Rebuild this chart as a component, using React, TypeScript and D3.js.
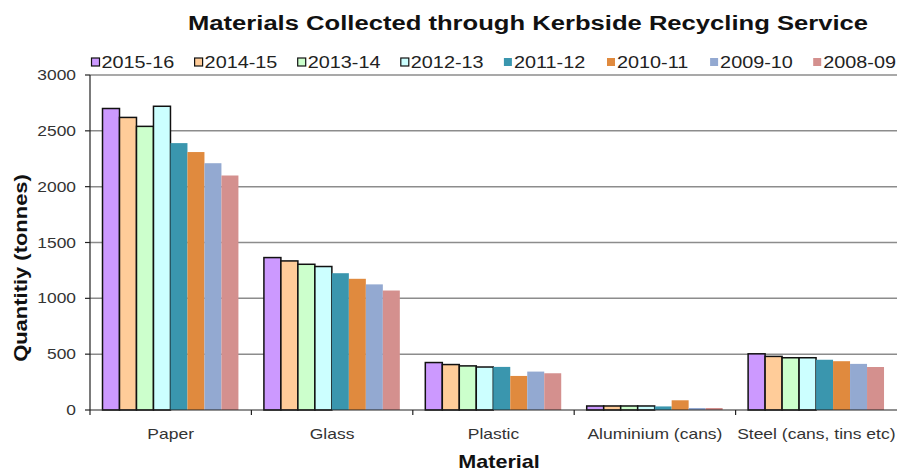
import React from "react";
import * as d3 from "d3";

const materials = ["Paper", "Glass", "Plastic", "Aluminium (cans)", "Steel (cans, tins etc)"];
const seasons = ["2015-16", "2014-15", "2013-14", "2012-13", "2011-12", "2010-11", "2009-10", "2008-09"];
const seasonColors = ["#CC99FF", "#FFCC99", "#CCFFCC", "#CCFFFF", "#3A96AE", "#E08A3E", "#93A9D1", "#D4908E"];
const outlined = [true, true, true, true, false, false, false, false];

// tonnes per material, one array per season
const s201516 = [2700, 1365, 425, 36, 503];
const s201415 = [2620, 1335, 407, 36, 480];
const s201314 = [2540, 1305, 395, 36, 468];
const s201213 = [2720, 1285, 385, 36, 468];
const s201112 = [2390, 1225, 386, 32, 450];
const s201011 = [2310, 1175, 305, 87, 437];
const s200910 = [2210, 1125, 344, 18, 413];
const s200809 = [2100, 1070, 329, 18, 385];
const seriesValues = [s201516, s201415, s201314, s201213, s201112, s201011, s200910, s200809];

const yTicks = [0, 500, 1000, 1500, 2000, 2500, 3000];

const W = 901;
const H = 471;
const left = 90;
const right = 897;
const top = 75;
const bottom = 410;

const font = "'Liberation Sans', Arial, sans-serif";

// text widened along its own baseline direction
function WideText(props: {
  x: number;
  y: number;
  sx: number;
  rotate?: number;
  size: number;
  bold?: boolean;
  anchor?: "start" | "middle" | "end";
  fill?: string;
  children: React.ReactNode;
}) {
  const { x, y, sx, rotate = 0, size, bold, anchor = "start", fill = "#222", children } = props;
  return (
    <text
      transform={`translate(${x},${y}) rotate(${rotate}) scale(${sx},1)`}
      textAnchor={anchor}
      fontSize={size}
      fontWeight={bold ? "bold" : "normal"}
      fill={fill}
    >
      {children}
    </text>
  );
}

export default function App() {
  const x0 = d3.scaleBand<string>().domain(materials).range([left, right]).paddingInner(0).paddingOuter(0);
  const groupW = x0.bandwidth();
  const barW = groupW / (seasons.length + 1.5);
  const x1 = d3
    .scaleBand<string>()
    .domain(seasons)
    .range([groupW * 0.0775, groupW * 0.0775 + barW * seasons.length]);
  const y = d3.scaleLinear().domain([0, 3000]).range([bottom, top]);

  return (
    <svg
      width={W}
      height={H}
      style={{ position: "absolute", left: 0, top: 0, background: "#fff" }}
      fontFamily={font}
    >
      <WideText x={528} y={30} sx={1.22} size={21} bold anchor="middle" fill="#111">
        Materials Collected through Kerbside Recycling Service
      </WideText>

      {/* legend */}
      {seasons.map((s, i) => {
        const lx = 91.5 + i * 103.1;
        return (
          <g key={s}>
            <rect
              x={lx}
              y={58}
              width={8}
              height={8}
              fill={seasonColors[i]}
              stroke={outlined[i] ? "#111" : "none"}
              strokeWidth={1.2}
            />
            <WideText x={lx + 10} y={68} sx={1.24} size={16}>
              {s}
            </WideText>
          </g>
        );
      })}

      {/* gridlines */}
      {yTicks.slice(1).map((t) => (
        <line key={t} x1={left} x2={right} y1={y(t)} y2={y(t)} stroke="#8c8c8c" strokeWidth={1.5} />
      ))}

      {/* bars */}
      {materials.map((m, mi) => (
        <g key={m} transform={`translate(${x0(m)},0)`}>
          {seasons.map((s, si) => {
            const v = seriesValues[si][mi];
            return (
              <rect
                key={s}
                x={x1(s)}
                y={y(v)}
                width={x1.bandwidth()}
                height={bottom - y(v)}
                fill={seasonColors[si]}
                stroke={outlined[si] ? "#111" : "none"}
                strokeWidth={1.5}
              />
            );
          })}
        </g>
      ))}

      {/* y axis */}
      <line x1={left} x2={left} y1={top} y2={bottom} stroke="#222" strokeWidth={1.2} />
      {yTicks.map((t) => (
        <g key={t}>
          <line x1={left - 5} x2={left} y1={y(t)} y2={y(t)} stroke="#222" strokeWidth={1.2} />
          <WideText x={76} y={y(t) + 5} sx={1.2} size={14.5} anchor="end" fill="#333">
            {t}
          </WideText>
        </g>
      ))}

      {/* x axis */}
      <line x1={left} x2={right} y1={bottom} y2={bottom} stroke="#222" strokeWidth={1.2} />
      {materials.map((m, i) => (
        <line
          key={m}
          x1={left + groupW * i}
          x2={left + groupW * i}
          y1={bottom}
          y2={bottom + 5}
          stroke="#222"
          strokeWidth={1.2}
        />
      ))}
      {materials.map((m) => (
        <WideText key={m} x={(x0(m) as number) + groupW / 2} y={439} sx={1.25} size={14} anchor="middle" fill="#333">
          {m}
        </WideText>
      ))}

      <WideText x={499} y={468} sx={1.2} size={18} bold anchor="middle" fill="#111">
        Material
      </WideText>
      <WideText x={27} y={268} rotate={-90} sx={1.22} size={18} bold anchor="middle" fill="#111">
        Quantitiy (tonnes)
      </WideText>
    </svg>
  );
}
